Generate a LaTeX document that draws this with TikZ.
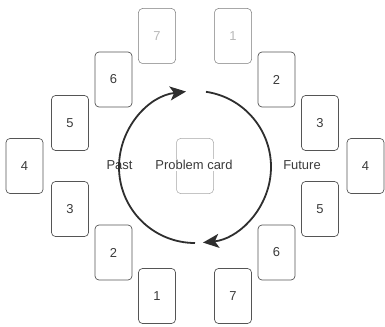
\documentclass[tikz,border=0pt]{standalone}
\usepackage{fontspec}
\setmainfont{Liberation Sans}
\usetikzlibrary{arrows.meta}
\definecolor{cardline}{HTML}{555555}
\definecolor{fadeline}{HTML}{7A7A7A}
\definecolor{fadetext}{HTML}{B8B8B8}
\definecolor{txt}{HTML}{3A3A3A}
\definecolor{arrowc}{HTML}{2E2E2E}
\begin{document}
\begin{tikzpicture}[x=1bp,y=1bp,
  card/.style={draw=cardline, line width=0.7bp, rounded corners=4bp, minimum width=37bp, minimum height=55bp, inner sep=0pt, text=txt, font=\fontsize{13}{15}\selectfont},
  fadecard/.style={card, draw=fadeline, line width=0.5bp, text=fadetext},
  probcard/.style={card, draw=gray!70, line width=0.5bp},
  lbl/.style={text=txt, font=\fontsize{13}{15}\selectfont, inner sep=1bp},
  cyc/.style={draw=arrowc, line width=1.8bp, -{Stealth[length=16bp,width=14bp,inset=4bp]}}
]
\useasboundingbox (0,0) rectangle (385,327);
% left column (past)
\node[fadecard] (L7) at (157,291) {7};
\node[card] (L6) at (113.5,247.5) {6};
\node[card] (L5) at (70,204) {5};
\node[card] (L4) at (24.5,161) {4};
\node[card] (L3) at (70,118) {3};
\node[card] (L2) at (113.5,74.5) {2};
\node[card] (L1) at (157,31) {1};
% right column (future)
\node[fadecard] (R1) at (233,291) {1};
\node[card] (R2) at (276.5,247.5) {2};
\node[card] (R3) at (320,204) {3};
\node[card] (R4) at (365.5,161) {4};
\node[card] (R5) at (320,118) {5};
\node[card] (R6) at (276.5,74.5) {6};
\node[card] (R7) at (233,31) {7};
% centre
\node[probcard] (P) at (195,161) {};
\node[lbl, fill=white] (Ptxt) at (194,162) {Problem card};
\node[lbl] (past) at (119.5,162) {Past};
\node[lbl] (future) at (302,162) {Future};
% cycle arrows
\draw[cyc] ([shift={(195,160)}]270:76) arc[start angle=270, end angle=96.8, radius=76];
\draw[cyc] ([shift={(195,160)}]81.7:76) arc[start angle=81.7, end angle=-84, radius=76];
\end{tikzpicture}
\end{document}
